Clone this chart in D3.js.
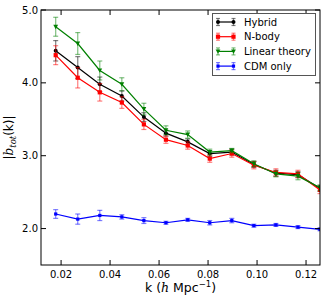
<!DOCTYPE html>
<html><head><meta charset="utf-8">
<script src="https://cdn.jsdelivr.net/npm/d3@7"></script>
<style>body{margin:0;background:#fff}text{font-family:"DejaVu Sans",sans-serif}</style>
</head><body><svg id="c" width="324" height="301"></svg>
<script>
const k = [0.0178,0.0268,0.0358,0.0448,0.0538,0.0628,0.0717,0.0807,0.0897,0.0987,0.1077,0.1167,0.1257];
const hybrid = [4.44,4.21,3.98,3.82,3.53,3.31,3.19,3.03,3.05,2.88,2.76,2.74,2.55];
const hybridErr = [0.14,0.15,0.10,0.07,0.06,0.04,0.04,0.04,0.04,0.04,0.04,0.04,0.04];
const nbody = [4.38,4.07,3.87,3.73,3.43,3.22,3.14,2.96,3.03,2.87,2.77,2.75,2.53];
const nbodyErr = [0.13,0.14,0.12,0.08,0.07,0.05,0.05,0.05,0.05,0.05,0.05,0.05,0.05];
const linear = [4.77,4.54,4.17,3.98,3.64,3.35,3.29,3.05,3.07,2.89,2.75,2.72,2.56];
const linearErr = [0.13,0.15,0.13,0.09,0.08,0.06,0.05,0.04,0.03,0.04,0.04,0.05,0.04];
const cdm = [2.20,2.13,2.18,2.16,2.11,2.08,2.12,2.08,2.11,2.04,2.05,2.02,1.99];
const cdmErr = [0.06,0.07,0.07,0.03,0.04,0.02,0.02,0.03,0.03,0.02,0.02,0.02,0.02];
const seriesNames = ["Hybrid","N-body","Linear theory","CDM only"];
const xTicks = [0.02,0.04,0.06,0.08,0.10,0.12];
const yTicks = [2.0,3.0,4.0,5.0];

const series = [
  {name:seriesNames[0], v:hybrid, e:hybridErr, color:"#000000", marker:"circle"},
  {name:seriesNames[1], v:nbody, e:nbodyErr, color:"#ff0000", marker:"square"},
  {name:seriesNames[2], v:linear, e:linearErr, color:"#008000", marker:"tri"},
  {name:seriesNames[3], v:cdm, e:cdmErr, color:"#0000ff", marker:"small"}
];

const L=41, R=320, T=10, B=265;
const svg = d3.select("#c");
const x = d3.scaleLinear().domain([0.0118,0.1257]).range([L,R]);
const y = d3.scaleLinear().domain([1.5,5.0]).range([B,T]);

svg.append("defs").append("clipPath").attr("id","cp").append("rect")
  .attr("x",L).attr("y",T).attr("width",R-L).attr("height",B-T);

function marker(g, cx, cy, type, color){
  if(type==="circle") g.append("circle").attr("cx",cx).attr("cy",cy).attr("r",2.0).attr("fill",color);
  else if(type==="square") g.append("rect").attr("x",cx-2.1).attr("y",cy-2.1).attr("width",4.2).attr("height",4.2).attr("fill",color);
  else if(type==="tri") g.append("path").attr("d",`M${cx-2.4},${cy-2.0}L${cx+2.4},${cy-2.0}L${cx},${cy+2.4}Z`).attr("fill",color);
  else g.append("rect").attr("x",cx-1.6).attr("y",cy-1.6).attr("width",3.2).attr("height",3.2).attr("fill",color);
}

const plot = svg.append("g").attr("clip-path","url(#cp)");
const line = d3.line().x((d,i)=>x(k[i])).y(d=>y(d));
series.forEach(s=>{
  const g = plot.append("g");
  s.v.forEach((v,i)=>{
    const cx=x(k[i]), y1=y(v+s.e[i]), y2=y(v-s.e[i]);
    const eg = g.append("g").attr("stroke",s.color).attr("stroke-opacity",0.5).attr("stroke-width",1.2);
    eg.append("line").attr("x1",cx).attr("x2",cx).attr("y1",y1).attr("y2",y2);
    eg.append("line").attr("x1",cx-2.5).attr("x2",cx+2.5).attr("y1",y1).attr("y2",y1);
    eg.append("line").attr("x1",cx-2.5).attr("x2",cx+2.5).attr("y1",y2).attr("y2",y2);
  });
  g.append("path").datum(s.v).attr("d",line).attr("fill","none").attr("stroke",s.color).attr("stroke-width",1.2);
  s.v.forEach((v,i)=>marker(g,x(k[i]),y(v),s.marker,s.color));
});

svg.append("rect").attr("x",L).attr("y",T).attr("width",R-L).attr("height",B-T)
  .attr("fill","none").attr("stroke","#000").attr("stroke-width",1);

const tl=5;
xTicks.forEach(t=>{
  const px=x(t);
  svg.append("line").attr("x1",px).attr("x2",px).attr("y1",B).attr("y2",B-tl).attr("stroke","#000");
  svg.append("line").attr("x1",px).attr("x2",px).attr("y1",T).attr("y2",T+tl).attr("stroke","#000");
  svg.append("text").attr("x",px).attr("y",B+13).attr("text-anchor","middle").attr("font-size",10).text(t.toFixed(2));
});
yTicks.forEach(t=>{
  const py=y(t);
  svg.append("line").attr("x1",L).attr("x2",L+tl).attr("y1",py).attr("y2",py).attr("stroke","#000");
  svg.append("line").attr("x1",R).attr("x2",R-tl).attr("y1",py).attr("y2",py).attr("stroke","#000");
  svg.append("text").attr("x",L-3).attr("y",py+3.6).attr("text-anchor","end").attr("font-size",10).text(t.toFixed(1));
});

const xl = svg.append("text").attr("x",(L+R)/2).attr("y",292).attr("text-anchor","middle").attr("font-size",12.5);
xl.append("tspan").text("k (");
xl.append("tspan").attr("font-style","italic").attr("font-family","DejaVu Serif").text("h");
xl.append("tspan").text(" Mpc");
xl.append("tspan").attr("font-size",8.5).attr("dy",-5).text("−1");
xl.append("tspan").attr("dy",5).text(")");

const yl = svg.append("text").attr("transform",`translate(13,${(T+B)/2}) rotate(-90)`).attr("text-anchor","middle").attr("font-size",12);
yl.append("tspan").text("|");
yl.append("tspan").attr("font-style","italic").attr("font-family","DejaVu Serif").text("b");
yl.append("tspan").attr("font-style","italic").attr("font-family","DejaVu Serif").attr("font-size",8.5).attr("dy",2.5).text("tot");
yl.append("tspan").attr("dy",-2.5).text("(k)|");

const lg = svg.append("g");
lg.append("rect").attr("x",212.5).attr("y",13.5).attr("width",103).attr("height",62).attr("fill","#fff").attr("stroke","#555").attr("stroke-width",1);
series.forEach((s,i)=>{
  const ly = 22 + i*14.7;
  const x1=218, x2=233.5;
  lg.append("line").attr("x1",x1).attr("x2",x2).attr("y1",ly).attr("y2",ly).attr("stroke",s.color).attr("stroke-width",1.2);
  [x1,x2].forEach(px=>{
    const eg = lg.append("g").attr("stroke",s.color).attr("stroke-opacity",0.5).attr("stroke-width",1.2);
    eg.append("line").attr("x1",px).attr("x2",px).attr("y1",ly-3.5).attr("y2",ly+3.5);
    eg.append("line").attr("x1",px-2).attr("x2",px+2).attr("y1",ly-3.5).attr("y2",ly-3.5);
    eg.append("line").attr("x1",px-2).attr("x2",px+2).attr("y1",ly+3.5).attr("y2",ly+3.5);
    marker(lg,px,ly,s.marker,s.color);
  });
  lg.append("text").attr("x",244).attr("y",ly+3.6).attr("font-size",10).text(s.name);
});
</script></body></html>
